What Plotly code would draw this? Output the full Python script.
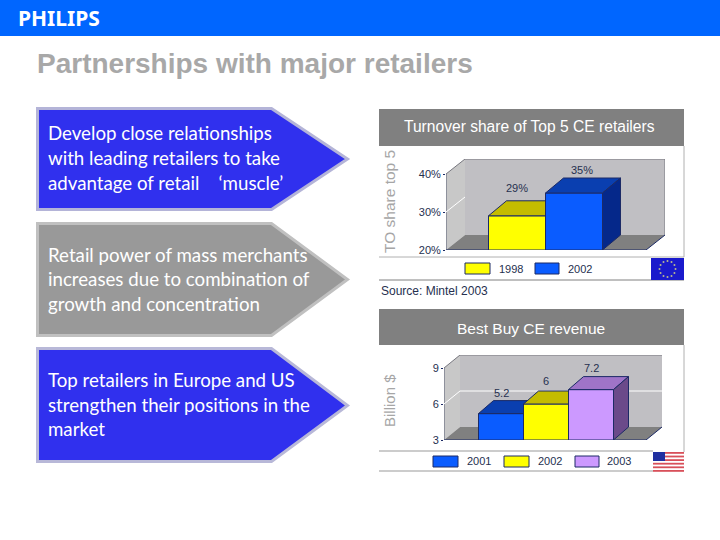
import math
import plotly.graph_objects as go

# ---- data ----
TITLE = "Partnerships with major retailers"
BRAND = "PHILIPS"
ARROW_LINES = [
    ["Develop close relationships", "with leading retailers to take", "advantage of retail    \u2018muscle\u2019"],
    ["Retail power of mass merchants", "increases due to combination of", "growth and concentration"],
    ["Top retailers in Europe and US", "strengthen their positions in the", "market"],
]
TURNOVER_TITLE = "Turnover share of Top 5 CE retailers"
TURNOVER_YEARS = ["1998", "2002"]
TURNOVER_VALUES = [29, 35]
TURNOVER_TICKS = [20, 30, 40]
TURNOVER_TICKTEXT = ["20%", "30%", "40%"]
TURNOVER_LABELS = ["29%", "35%"]
TURNOVER_AXIS = "TO share top 5"
SOURCE = "Source: Mintel 2003"

BESTBUY_TITLE = "Best Buy CE revenue"
BESTBUY_YEARS = ["2001", "2002", "2003"]
BESTBUY_VALUES = [5.2, 6, 7.2]
BESTBUY_TICKS = [3, 6, 9]
BESTBUY_LABELS = ["5.2", "6", "7.2"]
BESTBUY_AXIS = "Billion $"

W, H = 720, 540
NAVY = "#1c2a66"
TICKC = "#26304f"
GRAYT = "#a6a6a6"
BLUE, YEL, PUR = "#0a5cff", "#ffff00", "#cc99ff"
shapes, annos = [], []


def fx(p):
    return p / W


def fy(p):
    return 1 - p / H


def rect(x0, y0, x1, y1, fill, line=None, lw=1):
    shapes.append(dict(type="rect", xref="paper", yref="paper", x0=fx(x0), x1=fx(x1), y0=fy(y0), y1=fy(y1),
                       fillcolor=fill, line=dict(color=line or fill, width=lw if line else 0), layer="below"))


def hline(x0, x1, y, color="#999999", w=1):
    shapes.append(dict(type="line", xref="paper", yref="paper", x0=fx(x0), x1=fx(x1), y0=fy(y), y1=fy(y),
                       line=dict(color=color, width=w), layer="below"))


def vline(x, y0, y1, color="#999999", w=1):
    shapes.append(dict(type="line", xref="paper", yref="paper", x0=fx(x), x1=fx(x), y0=fy(y0), y1=fy(y1),
                       line=dict(color=color, width=w), layer="below"))


def text(x, y, s, size, color, font="Liberation Sans", anchor="left", angle=0):
    annos.append(dict(xref="paper", yref="paper", x=fx(x), y=fy(y), text=s, showarrow=False, xanchor=anchor,
                      yanchor="middle", textangle=angle, font=dict(family=font, size=size, color=color),
                      borderpad=0, borderwidth=0))


# ---- page furniture ----
rect(0, 0, W, 36, "#0066ff")
text(18, 18.5, "<b>%s</b>" % BRAND, 21, "#ffffff", "Noto Sans")
text(37, 63, "<b>%s</b>" % TITLE, 28, "#a8a8a8")

ARROWS = [(108.5, 209.5, 159, "#3030ee", "#b4b4d8"), (223.5, 335.5, 279.5, "#999999", "#c0c0c0"),
          (348.5, 461.5, 405.5, "#3030ee", "#b8b8d8")]
TEXTY = [[133, 158, 183], [255, 279, 304], [380, 405, 429]]
for (t, b, m, fill, edge), lines, ys in zip(ARROWS, ARROW_LINES, TEXTY):
    path = f"M {fx(37.5)} {fy(t)} L {fx(271.5)} {fy(t)} L {fx(347.5)} {fy(m)} L {fx(271.5)} {fy(b)} L {fx(37.5)} {fy(b)} Z"
    shapes.append(dict(type="path", xref="paper", yref="paper", path=path, fillcolor=fill,
                       line=dict(color=edge, width=3), layer="below"))
    for s, y in zip(lines, ys):
        text(48, y, s, 18.7, "#ffffff", "Lato")

# panel 1
rect(379, 109, 684, 146, "#808080")
text(529.5, 126.5, TURNOVER_TITLE, 15.6, "#ffffff", anchor="center")
vline(684, 146, 257, "#b0b0b0")
hline(379, 684, 257, "#b0b0b0")
hline(379, 684, 280, "#808080")
text(390, 202, TURNOVER_AXIS, 15.5, GRAYT, anchor="center", angle=-90)
text(381, 291, SOURCE, 12, TICKC)
rect(465, 263, 490, 274, YEL, NAVY)
text(511, 269, TURNOVER_YEARS[0], 11, TICKC, anchor="center")
rect(535, 263, 559, 274, BLUE, NAVY)
text(580, 269, TURNOVER_YEARS[1], 11, TICKC, anchor="center")
rect(651, 258, 684, 280, "#1a1acc")
for k in range(12):
    a = math.radians(30 * k)
    cx, cy = 667.5 + 8 * math.cos(a), 269 + 8 * math.sin(a)
    shapes.append(dict(type="circle", xref="paper", yref="paper", x0=fx(cx - 1), x1=fx(cx + 1), y0=fy(cy - 1),
                       y1=fy(cy + 1), fillcolor="#b8b890", line=dict(width=0), layer="below"))

# panel 2
rect(379, 309, 684, 345, "#808080")
text(531, 328, BESTBUY_TITLE, 15.5, "#ffffff", anchor="center")
vline(684, 345, 452, "#b0b0b0")
hline(379, 653, 451, "#999999")
hline(379, 653, 471, "#999999")
text(389, 401, BESTBUY_AXIS, 15, GRAYT, anchor="center", angle=-90)
for (x0, x1, tx), c, yr in zip([(433, 458, 479), (504, 529, 550), (575, 599, 619)], [BLUE, YEL, PUR], BESTBUY_YEARS):
    rect(x0, 456, x1, 467, c, NAVY)
    text(tx, 461, yr, 11, TICKC, anchor="center")
rect(653, 452, 684, 473, "#ffffff")
for k in range(6):
    rect(653, 452 + k * 3.6, 684, 453.8 + k * 3.6, "#d8505a")
rect(653, 452, 665, 461, "#2030a0")

fig = go.Figure()
layout = {}
axn = [0]


def new_axes(px0, px1, py0, py1, xr, yr, main=None):
    axn[0] += 1
    n = axn[0]
    xid = "x" if n == 1 else f"x{n}"
    yid = "y" if n == 1 else f"y{n}"
    xk = "xaxis" if n == 1 else f"xaxis{n}"
    yk = "yaxis" if n == 1 else f"yaxis{n}"
    layout[xk] = dict(domain=[fx(px0), fx(px1)], range=xr, visible=False, anchor=yid, fixedrange=True)
    layout[yk] = dict(domain=[fy(py1), fy(py0)], range=yr, visible=False, anchor=xid, fixedrange=True)
    if main:
        layout[xk]["overlaying"] = main[0]
        layout[yk]["overlaying"] = main[1]
    return xid, yid, xk, yk


def poly(xs, ys, axes, fill, line=None, lw=1):
    fig.add_trace(go.Scatter(x=xs + xs[:1], y=ys + ys[:1], xaxis=axes[0], yaxis=axes[1], mode="lines", fill="toself",
                             fillcolor=fill, line=dict(color=line or fill, width=lw if line else 0),
                             cliponaxis=False, showlegend=False, hoverinfo="skip"))


def seg(xs, ys, axes, color, w=1):
    fig.add_trace(go.Scatter(x=xs, y=ys, xaxis=axes[0], yaxis=axes[1], mode="lines", line=dict(color=color, width=w),
                             cliponaxis=False, showlegend=False, hoverinfo="skip"))


def chart(geo, names, values, ticks, ticktext, colors, tops, sides, labels, shifts, grid, side_edge):
    left, right, bot, top, boundary, unit, wall_dx, wall_dy, bar_dx, bar_dy, vmin, vtop_px, first = geo
    # pixel mapping expressed as axis ranges
    vperpx = (ticks[-1] - vmin) / (bot - vtop_px)
    xr = [first - (boundary - left) / unit, first + (right - boundary) / unit]
    yr = [vmin, vmin + (bot - top) * vperpx]
    base = new_axes(left, right, top, bot, xr, yr)
    ykey = base[3]
    layout[ykey].update(visible=True, tickmode="array", tickvals=ticks, ticktext=ticktext, ticks="outside", ticklen=2,
                        tickcolor=NAVY, showgrid=False, zeroline=False, showline=False,
                        tickfont=dict(family="Liberation Sans", size=11, color=TICKC))
    wdx, wdy = wall_dx / unit, wall_dy * vperpx
    bdx, bdy = bar_dx / unit, bar_dy * vperpx
    x0, x1 = xr[0], xr[0] + (right - wall_dx - left) / unit
    vt = ticks[-1]
    # floor, walls
    poly([x0 + wdx, x1 + wdx, x1 + wdx, x0 + wdx], [vmin + wdy, vmin + wdy, vt + wdy, vt + wdy], base, "#c0bfc3")
    poly([x0, x0 + wdx, x0 + wdx, x0], [vmin, vmin + wdy, vt + wdy, vt], base, "#c8c8c8")
    poly([x0, x0 + wdx, x1 + wdx, x1], [vmin, vmin + wdy, vmin + wdy, vmin], base, "#808080")
    seg([x0, x0 + wdx, x1 + wdx] + ([x1 + wdx] if side_edge else []),
        [vt, vt + wdy, vt + wdy] + ([vmin + wdy] if side_edge else []), base, "#77777f")
    seg([x0, x0], [vmin, vt], base, "#555a70")
    if grid is not None:
        seg([x0, x0 + wdx] + ([x1 + wdx] if grid[1] else []), [grid[0], grid[0] + wdy] + ([grid[0] + wdy] if grid[1] else []),
            base, "#ffffff", 1)
    for i, (name, v) in enumerate(zip(names, values)):
        ax = new_axes(left, right, top, bot, xr, yr, main=(base[0], base[1]))
        xa, xb = i + first - 0.5, i + first + 0.5
        fig.add_trace(go.Bar(x=[i + first], y=[v], width=1, name=name, xaxis=ax[0], yaxis=ax[1],
                             marker=dict(color=colors[i], line=dict(color=NAVY, width=1)), showlegend=False))
        poly([xa, xa + bdx, xb + bdx, xb], [v, v + bdy, v + bdy, v], ax, tops[i], NAVY)
        poly([xb, xb + bdx, xb + bdx, xb], [v, v + bdy, vmin + bdy, vmin], ax, sides[i], NAVY)
        annos.append(dict(xref=ax[0], yref=ax[1], x=(xa + xb) / 2, y=v + bdy, text=labels[i], showarrow=False,
                          xshift=shifts[i][0], yshift=shifts[i][1], font=dict(family="Liberation Sans", size=11, color=TICKC)))
    seg([x0, x1, x1 + wdx], [vmin, vmin, vmin + wdy], ax, NAVY)


# category index 0 centre: first=0; x boundary between bar 0 and 1 given in pixels (first+0.5)
chart((446, 665, 250, 159, 517, 57, 19, 15, 18, 15, 20, 174, 0),
      TURNOVER_YEARS, TURNOVER_VALUES, TURNOVER_TICKS, TURNOVER_TICKTEXT,
      [YEL, BLUE], ["#c4bc00", "#0a3fb0"], ["#c4bc00", "#05288a"], TURNOVER_LABELS,
      [(0, 13), (8, 8)], (30, False), True)
chart((444, 662, 440, 355, 501, 45, 16, 13, 15, 13, 3, 368, 0),
      BESTBUY_YEARS, BESTBUY_VALUES, BESTBUY_TICKS, [str(t) for t in BESTBUY_TICKS],
      [BLUE, YEL, PUR], ["#0a3fb0", "#c4bc00", "#9f74c8"], ["#05288a", "#c4bc00", "#6b4a8a"], BESTBUY_LABELS,
      [(0, 8), (0, 10), (0, 9)], (6, True), False)

fig.update_layout(width=W, height=H, margin=dict(l=0, r=0, t=0, b=0, autoexpand=False), paper_bgcolor="#ffffff", plot_bgcolor="rgba(0,0,0,0)",
                  showlegend=False, barmode="overlay", shapes=shapes, annotations=annos, **layout)
fig.write_html("out.html", config=dict(displayModeBar=False), post_script="document.body.style.margin='0';")
